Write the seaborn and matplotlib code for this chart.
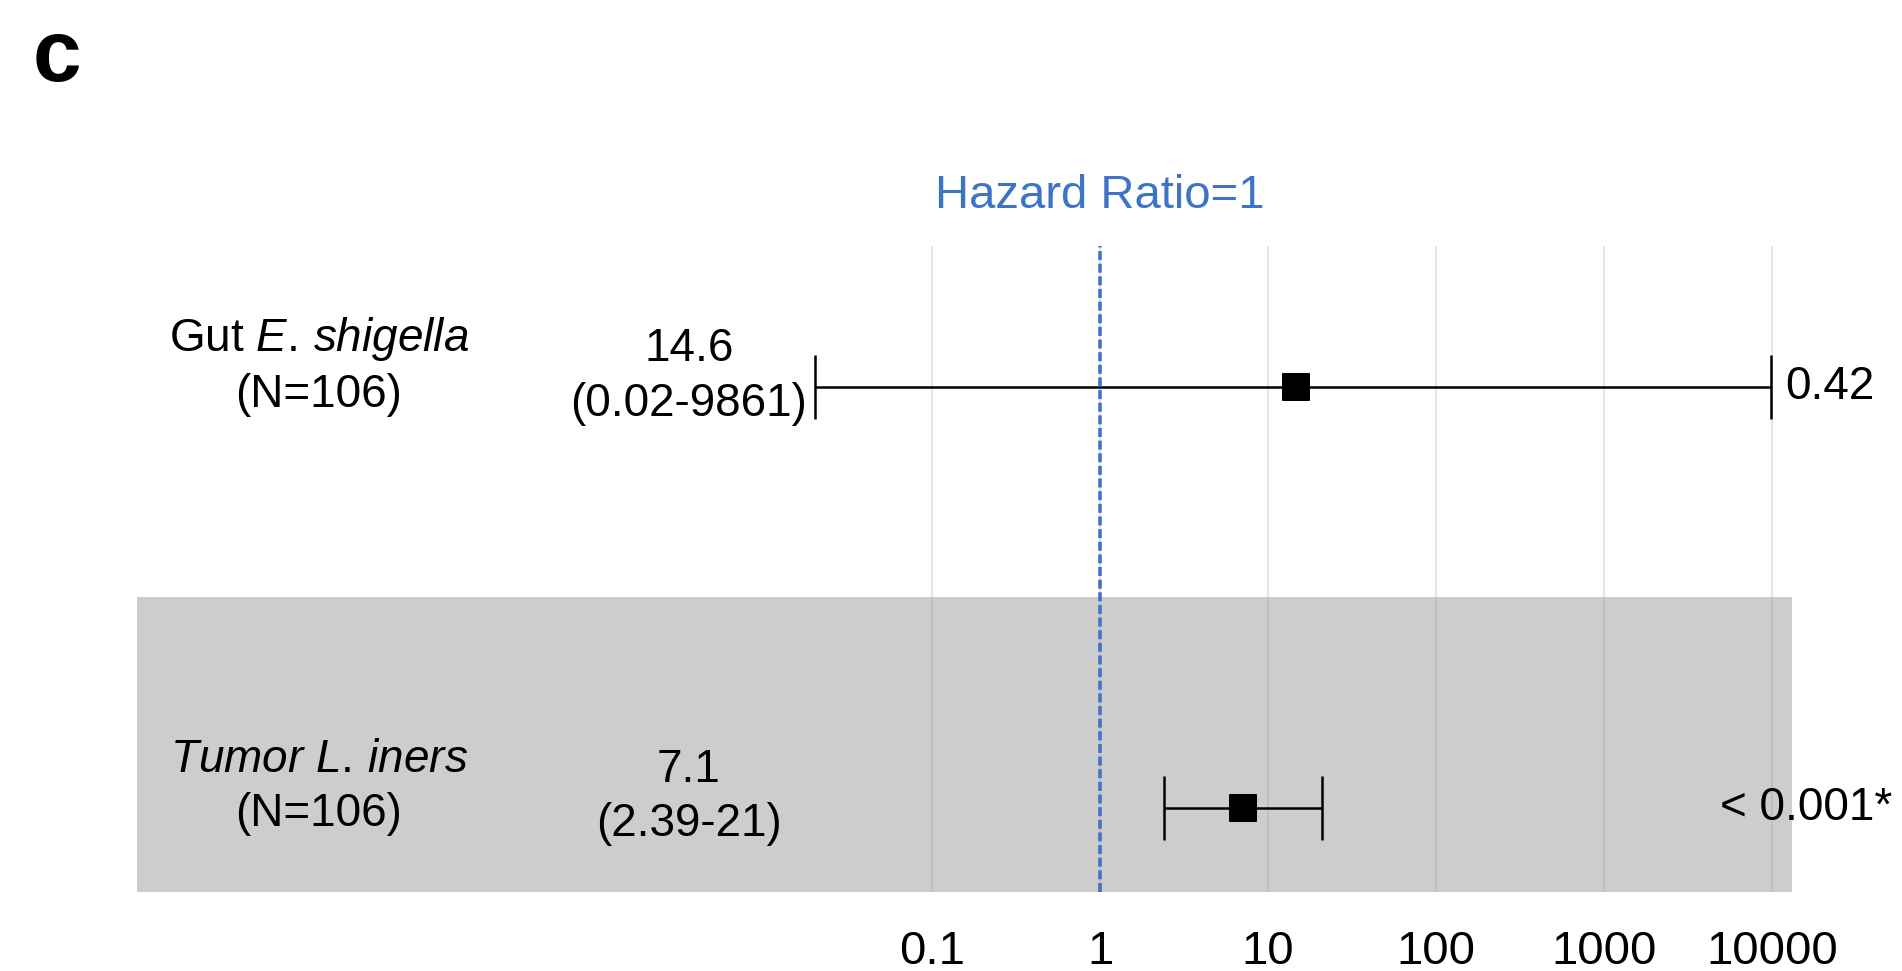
import matplotlib
matplotlib.use("Agg")
import matplotlib.pyplot as plt
import matplotlib.transforms as mtransforms
from matplotlib.ticker import NullLocator
import numpy as np
import pandas as pd
import seaborn as sns

# Data
row_labels = ["Gut $\\it{E.\\,shigella}$", "$\\it{Tumor\\ L.\\,iners}$"]
n_values = [106, 106]
hazard_ratio = [14.6, 7.1]
ci_low = [0.02, 2.39]
ci_high = [9861, 21]
p_labels = ["0.42", "< 0.001*"]
x_ticks = [0.1, 1, 10, 100, 1000, 10000]

df = pd.DataFrame({
    "label": row_labels,
    "n": n_values,
    "hr": hazard_ratio,
    "low": ci_low,
    "high": ci_high,
    "p": p_labels,
})
df["y"] = np.arange(len(df))[::-1]

sns.set_theme(style="white")
plt.rcParams["font.family"] = ["Liberation Sans", "DejaVu Sans"]
plt.rcParams["mathtext.fontset"] = "custom"
plt.rcParams["mathtext.rm"] = "Liberation Sans"
plt.rcParams["mathtext.it"] = "Liberation Sans:italic"
plt.rcParams["text.color"] = "black"
plt.rcParams["xtick.color"] = "black"

W, H = 1902, 971
fig = plt.figure(figsize=(W / 100, H / 100), dpi=100)
ax = fig.add_axes([0, (H - 892) / H, 1, (892 - 246) / H])

# log axis laid out across the full figure width (1 at px 1100, 168 px per decade)
x_one, decade = 1100, 168.0
ax.set_xscale("log")
ax.set_xlim(10 ** (-x_one / decade), 10 ** ((W - x_one) / decade))
ax.set_ylim(-0.2, 1.335)

# shaded band behind the second row
ax.axhspan(-0.2, 0.5, xmin=137 / W, xmax=1792 / W, color="#cdcdcd", zorder=1, lw=0)

ax.set_axisbelow(False)
ax.grid(axis="x", color="#999999", alpha=0.3, lw=1.2)
ax.grid(axis="y", visible=False)
ax.set_xticks(x_ticks)
ax.set_xticklabels([f"{t:g}" for t in x_ticks])
ax.xaxis.set_minor_locator(NullLocator())
ax.set_yticks([])
ax.tick_params(axis="x", length=0, labelsize=34, pad=27)
for s in ax.spines.values():
    s.set_visible(False)

ax.axvline(1, color="#4472c4", ls=(0, (2.5, 1)), lw=2.6, zorder=5)
ax.text(1, 1.077, "Hazard Ratio=1", color="#3d74c6", fontsize=34,
        ha="center", va="center",
        transform=mtransforms.blended_transform_factory(ax.transData, ax.transAxes))

ax.errorbar(df["hr"], df["y"], xerr=[df["hr"] - df["low"], df["high"] - df["hr"]],
            fmt="none", ecolor="black", elinewidth=1.8, capsize=23, capthick=1.8, zorder=4)
sns.scatterplot(data=df, x="hr", y="y", marker="s", s=330, color="black",
                edgecolor="black", ax=ax, zorder=6, legend=False)
ax.set_xlabel("")
ax.set_ylabel("")

tr = mtransforms.blended_transform_factory(ax.transAxes, ax.transData)
for _, r in df.iterrows():
    ax.text(319 / W, r["y"] + 0.05, f"{r['label']}\n(N={r['n']})", transform=tr,
            fontsize=33, ha="center", va="center", linespacing=1.3)
    ax.text(689 / W, r["y"] + 0.025, f"{r['hr']:g}\n({r['low']:g}-{r['high']:g})",
            transform=tr, fontsize=33, ha="center", va="center", linespacing=1.3)
    if r["high"] > 1000:
        # whisker runs into the p column: put the value just after the cap
        ax.annotate(r["p"], (r["high"], r["y"]), xytext=(10, 0), textcoords="offset points",
                    fontsize=33, ha="left", va="center")
    else:
        ax.text(1892 / W, r["y"], r["p"], transform=tr, fontsize=33,
                ha="right", va="center")

fig.text(57 / W, 1 - 59 / H, "c", fontsize=63, fontweight="bold", ha="center", va="center")

fig.savefig("out.png", dpi=100)
